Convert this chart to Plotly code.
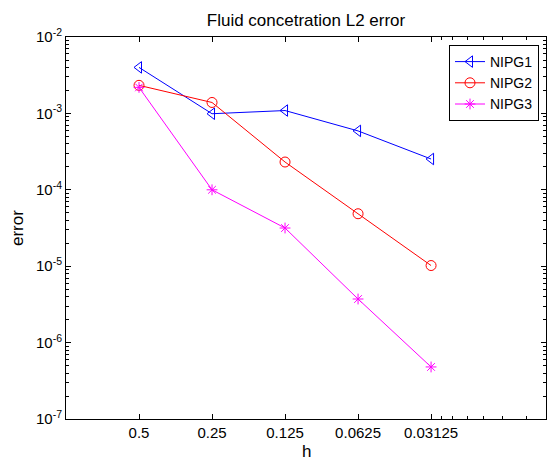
import numpy as np
import plotly.graph_objects as go

# ---- data ----
h = [0.5, 0.25, 0.125, 0.0625, 0.03125]
h_labels = ["0.5", "0.25", "0.125", "0.0625", "0.03125"]
nipg1 = [4.0e-3, 9.9e-4, 1.09e-3, 5.9e-4, 2.53e-4]
nipg2 = [2.33e-3, 1.39e-3, 2.31e-4, 4.86e-5, 1.02e-5]
nipg3 = [2.19e-3, 1.0e-4, 3.16e-5, 3.72e-6, 4.8e-7]
y_decades = [-7, -6, -5, -4, -3, -2]
x_minor = [0.02836, 0.02542, 0.02204, 0.01894, 0.01581, 0.01267]

FONT = "Liberation Sans, Arial, Helvetica, sans-serif"

fig = go.Figure()
series = [
    ("NIPG1", nipg1, "rgb(0,0,255)", "triangle-left-open", 10),
    ("NIPG2", nipg2, "rgb(255,0,0)", "circle-open", 10),
    ("NIPG3", nipg3, "rgb(255,0,255)", "asterisk-open", 9),
]
for name, vals, col, sym, sz in series:
    fig.add_trace(go.Scatter(
        x=h, y=vals, name=name, mode="lines+markers",
        line=dict(color=col, width=1),
        marker=dict(symbol=sym, size=sz, color=col, line=dict(color=col, width=1)),
    ))

y_minor = [k * 10.0 ** d for d in y_decades[:-1] for k in range(2, 10)]

fig.update_layout(
    width=548, height=462,
    margin=dict(l=66, r=2, t=37, b=43),
    paper_bgcolor="white", plot_bgcolor="white",
    font=dict(family=FONT, size=15, color="black"),
    showlegend=True,
    title=dict(text="Fluid concetration L2 error", x=0.5, xref="paper",
               xanchor="center", y=1 - 20 / 462, yref="container", yanchor="middle",
               font=dict(size=17, family=FONT, color="black")),
    legend=dict(x=1 - 7 / 480, xanchor="right", y=1 - 8 / 382, yanchor="top",
                bgcolor="white", bordercolor="black", borderwidth=1,
                font=dict(size=14, family=FONT, color="black"),
                tracegroupgap=0),
    xaxis=dict(
        type="log", range=[0, -1.979], showgrid=False, zeroline=False,
        showline=True, linecolor="black", linewidth=1, mirror="ticks",
        ticks="inside", ticklen=5, tickcolor="black", tickwidth=1,
        tickmode="array", tickvals=h, ticktext=h_labels,
        tickfont=dict(size=15, family=FONT, color="black"),
        minor=dict(tickmode="array", tickvals=x_minor, ticks="inside",
                   ticklen=3, tickcolor="black", tickwidth=1, showgrid=False),
    ),
    yaxis=dict(
        type="log", range=[-7, -2], showgrid=False, zeroline=False,
        showline=True, linecolor="black", linewidth=1, mirror="ticks",
        ticks="inside", ticklen=5, tickcolor="black", tickwidth=1,
        tickmode="array", tickvals=[10.0 ** d for d in y_decades],
        ticktext=["10<sup>%d</sup>" % d for d in y_decades],
        tickfont=dict(size=15, family=FONT, color="black"),
        minor=dict(tickmode="array", tickvals=y_minor, ticks="inside",
                   ticklen=3, tickcolor="black", tickwidth=1, showgrid=False),
    ),
    annotations=[
        dict(text="h", xref="paper", yref="paper", x=0.5, y=-32 / 382,
             xanchor="center", yanchor="middle", showarrow=False,
             font=dict(size=17, family=FONT, color="black")),
        dict(text="error", xref="paper", yref="paper", x=-49 / 480, y=0.5,
             xanchor="center", yanchor="middle", showarrow=False, textangle=-90,
             font=dict(size=17, family=FONT, color="black")),
    ],
)

fig.write_html("out.html")
